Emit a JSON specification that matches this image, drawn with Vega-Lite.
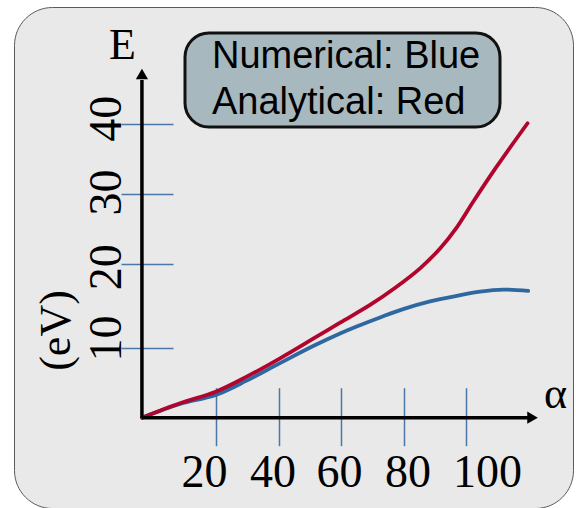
{
  "$schema": "https://vega.github.io/schema/vega-lite/v6.json",
  "width": 559,
  "height": 501,
  "autosize": {"type": "none"},
  "padding": {"left": 14, "top": 7, "right": 3, "bottom": 0},
  "background": "white",
  "config": {"view": {"fill": "#e9e9e9", "stroke": "#5a5a5a", "strokeWidth": 1, "cornerRadius": 38}},
  "resolve": {"axis": {"x": "independent", "y": "independent"}},
  "layer": [
    {
      "data": {"values": [
        {"method": "Numerical", "alpha": -3.7, "E": -2.08},
        {"method": "Numerical", "alpha": 8.5, "E": -0.1},
        {"method": "Numerical", "alpha": 19.9, "E": 1.18},
        {"method": "Numerical", "alpha": 29.8, "E": 3.23},
        {"method": "Numerical", "alpha": 40.5, "E": 5.75},
        {"method": "Numerical", "alpha": 51.1, "E": 8.2},
        {"method": "Numerical", "alpha": 59.7, "E": 10.0},
        {"method": "Numerical", "alpha": 65.0, "E": 11.0},
        {"method": "Numerical", "alpha": 72.5, "E": 12.3},
        {"method": "Numerical", "alpha": 79.9, "E": 13.5},
        {"method": "Numerical", "alpha": 88.5, "E": 14.6},
        {"method": "Numerical", "alpha": 97.0, "E": 15.4},
        {"method": "Numerical", "alpha": 104.5, "E": 16.0},
        {"method": "Numerical", "alpha": 111.9, "E": 16.3},
        {"method": "Numerical", "alpha": 119.9, "E": 16.1},
        {"method": "Analytical", "alpha": -3.7, "E": -2.08},
        {"method": "Analytical", "alpha": 8.5, "E": 0.0},
        {"method": "Analytical", "alpha": 19.9, "E": 1.65},
        {"method": "Analytical", "alpha": 29.8, "E": 3.8},
        {"method": "Analytical", "alpha": 40.5, "E": 6.44},
        {"method": "Analytical", "alpha": 51.1, "E": 9.25},
        {"method": "Analytical", "alpha": 59.7, "E": 11.55},
        {"method": "Analytical", "alpha": 69.3, "E": 14.09},
        {"method": "Analytical", "alpha": 77.8, "E": 16.71},
        {"method": "Analytical", "alpha": 85.3, "E": 19.35},
        {"method": "Analytical", "alpha": 91.7, "E": 22.2},
        {"method": "Analytical", "alpha": 97.0, "E": 25.2},
        {"method": "Analytical", "alpha": 102.3, "E": 28.9},
        {"method": "Analytical", "alpha": 109.8, "E": 33.93},
        {"method": "Analytical", "alpha": 119.7, "E": 40.16}
      ]},
      "mark": {"type": "line", "interpolate": "catmull-rom", "strokeWidth": 3.8, "strokeCap": "round"},
      "encoding": {
        "x": {
          "field": "alpha", "type": "quantitative",
          "scale": {"domain": [-44.64, 134.24], "nice": false, "zero": false},
          "axis": {
            "orient": "bottom", "offset": -90.3, "values": [20, 40, 60, 80, 100],
            "domain": false, "grid": false, "tickSize": 28, "tickColor": "#4a76a8", "tickWidth": 1.5,
            "labelFont": "Liberation Serif", "labelFontSize": 46, "labelColor": "black",
            "labelBaseline": "alphabetic", "labelAlign": "center", "labelPadding": 41,
            "labelOverlap": false, "labelFlush": false,
            "labelOffset": {"condition": [
              {"test": "datum.value == 20", "value": -12},
              {"test": "datum.value == 40", "value": -6},
              {"test": "datum.value == 60", "value": -2},
              {"test": "datum.value == 80", "value": 4},
              {"test": "datum.value == 100", "value": 21}
            ], "value": 0},
            "title": null
          }
        },
        "y": {
          "field": "E", "type": "quantitative",
          "scale": {"domain": [-15.04, 56.84], "nice": false, "zero": false},
          "axis": {
            "orient": "left", "offset": -128, "values": [7.92, 20, 30, 40],
            "domain": false, "grid": false, "tickSize": 21, "tickColor": "#4a76a8", "tickWidth": 1.5,
            "labelFont": "Liberation Serif", "labelFontSize": 46, "labelColor": "black",
            "labelAngle": -90, "labelAlign": "center", "labelBaseline": "alphabetic", "labelPadding": 1,
            "labelOverlap": false, "labelFlush": false,
            "labelExpr": "datum.value < 10 ? '10' : datum.label",
            "labelOffset": {"condition": [
              {"test": "datum.value < 10", "value": -10},
              {"test": "datum.value == 20", "value": 3},
              {"test": "datum.value == 30", "value": -2},
              {"test": "datum.value == 40", "value": -6}
            ], "value": 0},
            "title": "(eV)", "titleFont": "Liberation Serif", "titleFontSize": 44, "titleFontWeight": "normal",
            "titleColor": "black", "titleAngle": -90, "titleX": -86, "titleY": 323,
            "titleAlign": "center", "titleBaseline": "middle"
          }
        },
        "color": {
          "field": "method", "type": "nominal",
          "scale": {"domain": ["Numerical", "Analytical"], "range": ["#2f68a0", "#b1052d"]},
          "legend": {
            "orient": "none", "legendX": 171, "legendY": 26,
            "title": "\u00a0", "titleOrient": "right", "titlePadding": 15, "titleFontSize": 2,
            "fillColor": "#a8b8bf", "strokeColor": "#111111", "cornerRadius": 24,
            "padding": 5, "rowPadding": 8,
            "labelFont": "Liberation Sans", "labelFontSize": 38, "labelColor": "black", "labelLimit": 500,
            "labelOffset": -16, "symbolType": "circle", "symbolSize": 1, "symbolOpacity": 0, "symbolStrokeWidth": 0,
            "labelExpr": "datum.label + (datum.label == 'Numerical' ? ': Blue' : ': Red')",
            "encode": {"legend": {"update": {"strokeWidth": {"value": 3}}}}
          }
        }
      }
    },
    {
      "data": {"values": [{}]},
      "mark": {"type": "rule", "color": "black", "strokeWidth": 3.5},
      "encoding": {
        "x": {
          "datum": -3.7, "type": "quantitative",
          "scale": {"domain": [-44.64, 134.24], "nice": false, "zero": false},
          "axis": {
            "orient": "top", "offset": -410.7, "values": [20, 40, 60, 80, 100],
            "domain": false, "grid": false, "labels": false, "tickSize": 30, "tickColor": "#4a76a8", "tickWidth": 1.5,
            "title": "α", "titleFont": "Liberation Serif", "titleFontSize": 44, "titleFontWeight": "normal",
            "titleColor": "black", "titleAngle": 0, "titleX": 541, "titleY": -10.7,
            "titleAlign": "center", "titleBaseline": "alphabetic"
          }
        },
        "x2": {"datum": 119.8},
        "y": {
          "datum": -2.08, "type": "quantitative",
          "scale": {"domain": [-15.04, 56.84], "nice": false, "zero": false},
          "axis": null
        }
      }
    },
    {
      "data": {"values": [{}]},
      "mark": {"type": "rule", "color": "black", "strokeWidth": 3.5},
      "encoding": {
        "x": {
          "datum": -3.7, "type": "quantitative",
          "scale": {"domain": [-44.64, 134.24], "nice": false, "zero": false},
          "axis": null
        },
        "y": {
          "datum": -2.08, "type": "quantitative",
          "scale": {"domain": [-15.04, 56.84], "nice": false, "zero": false},
          "axis": {
            "orient": "right", "offset": -431, "values": [7.92, 20, 30, 40],
            "domain": false, "grid": false, "labels": false, "tickSize": 31, "tickColor": "#4a76a8", "tickWidth": 1.5,
            "title": "E", "titleFont": "Liberation Serif", "titleFontSize": 44, "titleFontWeight": "normal",
            "titleColor": "black", "titleAngle": 0, "titleX": -20, "titleY": 51,
            "titleAlign": "center", "titleBaseline": "alphabetic"
          }
        },
        "y2": {"datum": 46.37}
      }
    },
    {
      "data": {"values": [{}]},
      "mark": {"type": "point", "shape": "triangle-right", "filled": true, "color": "black", "size": 150, "opacity": 1},
      "encoding": {
        "x": {"datum": 121.3, "type": "quantitative", "scale": {"domain": [-44.64, 134.24], "nice": false, "zero": false}, "axis": null},
        "y": {"datum": -2.08, "type": "quantitative", "scale": {"domain": [-15.04, 56.84], "nice": false, "zero": false}, "axis": null}
      }
    },
    {
      "data": {"values": [{}]},
      "mark": {"type": "point", "shape": "triangle-up", "filled": true, "color": "black", "size": 150, "opacity": 1},
      "encoding": {
        "x": {"datum": -3.7, "type": "quantitative", "scale": {"domain": [-44.64, 134.24], "nice": false, "zero": false}, "axis": null},
        "y": {"datum": 47.23, "type": "quantitative", "scale": {"domain": [-15.04, 56.84], "nice": false, "zero": false}, "axis": null}
      }
    }
  ]
}
